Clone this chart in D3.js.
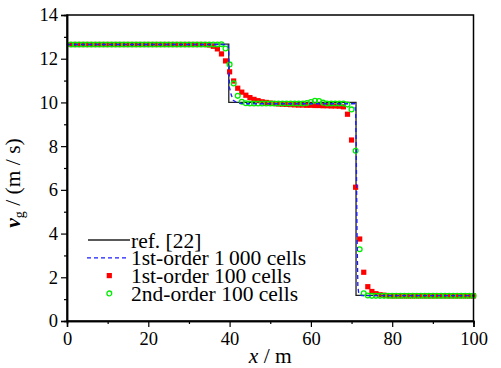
<!DOCTYPE html>
<html>
<head>
<meta charset="utf-8">
<script src="https://cdn.jsdelivr.net/npm/d3@7"></script>
<style>
  body { margin: 0; background: #fff; }
</style>
</head>
<body>
<svg id="chart" width="501" height="368"></svg>
<script>
// cell positions (m) of the 100-cell solutions
const cellX = [1,2,3,4,5,6,7,8,9,10,11,12,13,14,15,16,17,18,19,20,
  21,22,23,24,25,26,27,28,29,30,31,32,33,34,35,36,37,38,39,40,
  41,42,43,44,45,46,47,48,49,50,51,52,53,54,55,56,57,58,59,60,
  61,62,63,64,65,66,67,68,69,70,71,72,73,74,75,76,77,78,79,80,
  81,82,83,84,85,86,87,88,89,90,91,92,93,94,95,96,97,98,99,100];

// 1st-order, 100 cells
const first100 = [12.65,12.65,12.65,12.65,12.65,12.65,12.65,12.65,12.65,12.65,
  12.65,12.65,12.65,12.65,12.65,12.65,12.65,12.65,12.65,12.65,
  12.65,12.65,12.65,12.65,12.65,12.65,12.65,12.65,12.65,12.65,
  12.65,12.65,12.65,12.65,12.63,12.57,12.45,12.22,11.9,11.4,
  10.98,10.65,10.47,10.33,10.22,10.14,10.08,10.03,10.0,9.97,
  9.95,9.93,9.92,9.91,9.9,9.89,9.88,9.88,9.87,9.87,
  9.86,9.86,9.85,9.85,9.84,9.84,9.83,9.8,9.46,8.28,
  6.12,3.75,2.23,1.57,1.35,1.25,1.2,1.18,1.16,1.15,
  1.15,1.15,1.15,1.15,1.15,1.15,1.15,1.15,1.15,1.15,
  1.15,1.15,1.15,1.15,1.15,1.15,1.15,1.15,1.15,1.15];

// 2nd-order, 100 cells
const second100 = [12.65,12.65,12.65,12.65,12.65,12.65,12.65,12.65,12.65,12.65,
  12.65,12.65,12.65,12.65,12.65,12.65,12.65,12.65,12.65,12.65,
  12.65,12.65,12.65,12.65,12.65,12.65,12.65,12.65,12.65,12.65,
  12.65,12.65,12.65,12.65,12.65,12.65,12.65,12.66,12.47,11.74,
  10.87,10.3,10.03,9.96,9.95,9.95,9.95,9.95,9.95,9.95,
  9.95,9.95,9.95,9.95,9.95,9.95,9.95,9.95,9.97,10.02,
  10.08,10.06,9.99,9.95,9.95,9.95,9.95,9.95,9.9,9.68,
  7.79,3.28,1.27,1.17,1.15,1.15,1.15,1.15,1.15,1.15,
  1.15,1.15,1.15,1.15,1.15,1.15,1.15,1.15,1.15,1.15,
  1.15,1.15,1.15,1.15,1.15,1.15,1.15,1.15,1.15,1.15];

// 1st-order, 1000 cells (read at the bends)
const fineX = [0, 39.6, 39.75, 39.9, 39.95, 40.4, 40.9, 42, 43.5, 70.8, 71.0, 71.15, 71.35, 71.55, 71.8, 72.5, 100];
const fineV = [12.65, 12.65, 12.5, 11.5, 10.7, 10.35, 10.1, 9.97, 9.94, 9.94, 9.6, 8.0, 4.0, 1.6, 1.22, 1.16, 1.16];

// reference solution
const refX = [0, 39.8, 39.8, 71.1, 71.1, 100];
const refV = [12.67, 12.67, 10.0, 10.0, 1.17, 1.17];

const xTicks = [0, 20, 40, 60, 80, 100];
const xMinor = [10, 30, 50, 70, 90];
const yTicks = [0, 2, 4, 6, 8, 10, 12, 14];
const yMinor = [1, 3, 5, 7, 9, 11, 13];

const legendLabels = ["ref. [22]", "1st-order 1\u2009000 cells", "1st-order 100 cells", "2nd-order 100 cells"];

const serif = '"Liberation Serif", "Times New Roman", Times, serif';

const svg = d3.select('#chart');
const margin = {top: 15, right: 27.5, bottom: 47, left: 67};
const innerWidth = 501 - margin.left - margin.right;
const innerHeight = 368 - margin.top - margin.bottom;

const g = svg.append('g').attr('transform', `translate(${margin.left}, ${margin.top})`);

const xScale = d3.scaleLinear().domain([0, 100]).range([0, innerWidth]);
const yScale = d3.scaleLinear().domain([0, 14]).range([innerHeight, 0]);

const line = d3.line().x(d => xScale(d[0])).y(d => yScale(d[1]));

// reference
g.append('path')
  .datum(refX.map((x, i) => [x, refV[i]]))
  .attr('d', line)
  .attr('fill', 'none')
  .attr('stroke', '#222')
  .attr('stroke-width', 1.3);

// red squares
g.selectAll('.sq')
  .data(cellX.map((x, i) => [x, first100[i]]))
  .join('rect')
  .classed('sq', true)
  .attr('x', d => xScale(d[0]) - 2.6)
  .attr('y', d => yScale(d[1]) - 2.6)
  .attr('width', 5.2)
  .attr('height', 5.2)
  .attr('fill', '#ff0000');

// green circles
g.selectAll('.ci')
  .data(cellX.map((x, i) => [x, second100[i]]))
  .join('circle')
  .classed('ci', true)
  .attr('cx', d => xScale(d[0]))
  .attr('cy', d => yScale(d[1]))
  .attr('r', 2.4)
  .attr('fill', 'none')
  .attr('stroke', '#00ee00')
  .attr('stroke-width', 1.3);

// blue dashed
g.append('path')
  .datum(fineX.map((x, i) => [x, fineV[i]]))
  .attr('d', line)
  .attr('fill', 'none')
  .attr('stroke', '#1a1aff')
  .attr('stroke-width', 1.3)
  .attr('stroke-dasharray', '4,3');

// frame
g.append('rect')
  .attr('width', innerWidth)
  .attr('height', innerHeight)
  .attr('fill', 'none')
  .attr('stroke', '#000')
  .attr('stroke-width', 1.5);

// axes
const xAxis = g.append('g').attr('transform', `translate(0, ${innerHeight})`)
  .call(d3.axisBottom(xScale).tickValues(xTicks).tickSize(6).tickPadding(5));
const xAxisMinor = g.append('g').attr('transform', `translate(0, ${innerHeight})`)
  .call(d3.axisBottom(xScale).tickValues(xMinor).tickSize(3).tickFormat(''));
const yAxis = g.append('g')
  .call(d3.axisLeft(yScale).tickValues(yTicks).tickSize(6).tickPadding(3));
const yAxisMinor = g.append('g')
  .call(d3.axisLeft(yScale).tickValues(yMinor).tickSize(3).tickFormat(''));

[xAxis, xAxisMinor, yAxis, yAxisMinor].forEach(a => {
  a.attr('font-family', null).attr('font-size', null);
  a.select('.domain').attr('stroke-width', 1.5);
  a.selectAll('.tick line').attr('stroke-width', 1.2);
  a.selectAll('.tick text')
    .style('font-size', '18.5px')
    .style('font-family', serif)
    .attr('fill', '#000');
});

// axis titles
const xTitle = svg.append('text')
  .attr('x', margin.left + innerWidth / 2)
  .attr('y', 363)
  .attr('text-anchor', 'middle')
  .style('font-family', serif)
  .style('font-size', '21.5px');
xTitle.append('tspan').attr('font-style', 'italic').text('x');
xTitle.append('tspan').text(' / m');

const yTitle = svg.append('text')
  .attr('transform', `translate(20, 183) rotate(-90)`)
  .attr('text-anchor', 'middle')
  .style('font-family', serif)
  .style('font-size', '21.5px');
yTitle.append('tspan').attr('font-style', 'italic').attr('font-weight', 'bold').text('v');
yTitle.append('tspan').style('font-size', '14px').attr('dy', 4).text('g');
yTitle.append('tspan').attr('dy', -4).text(' / (m / s)');

// legend
const legend = g.append('g').attr('transform', 'translate(20, 225)');
const rowH = 17.8;
legendLabels.forEach((lab, i) => {
  const row = legend.append('g').attr('transform', `translate(0, ${i * rowH})`);
  if (i === 0) {
    row.append('line').attr('x1', 1).attr('x2', 43).attr('stroke', '#222').attr('stroke-width', 1.3);
  } else if (i === 1) {
    row.append('line').attr('x1', 0).attr('x2', 42).attr('stroke', '#1a1aff')
      .attr('stroke-width', 1.3).attr('stroke-dasharray', '4,3');
  } else if (i === 2) {
    row.append('rect').attr('x', 19.7).attr('y', -2.6).attr('width', 5.2).attr('height', 5.2).attr('fill', '#ff0000');
  } else {
    row.append('circle').attr('cx', 22.3).attr('r', 2.4).attr('fill', 'none')
      .attr('stroke', '#00ee00').attr('stroke-width', 1.3);
  }
  row.append('text')
    .attr('x', 44)
    .attr('y', 0)
    .attr('dy', '0.35em')
    .style('font-family', serif)
    .style('font-size', '21.5px')
    .text(lab);
});
</script>
</body>
</html>
